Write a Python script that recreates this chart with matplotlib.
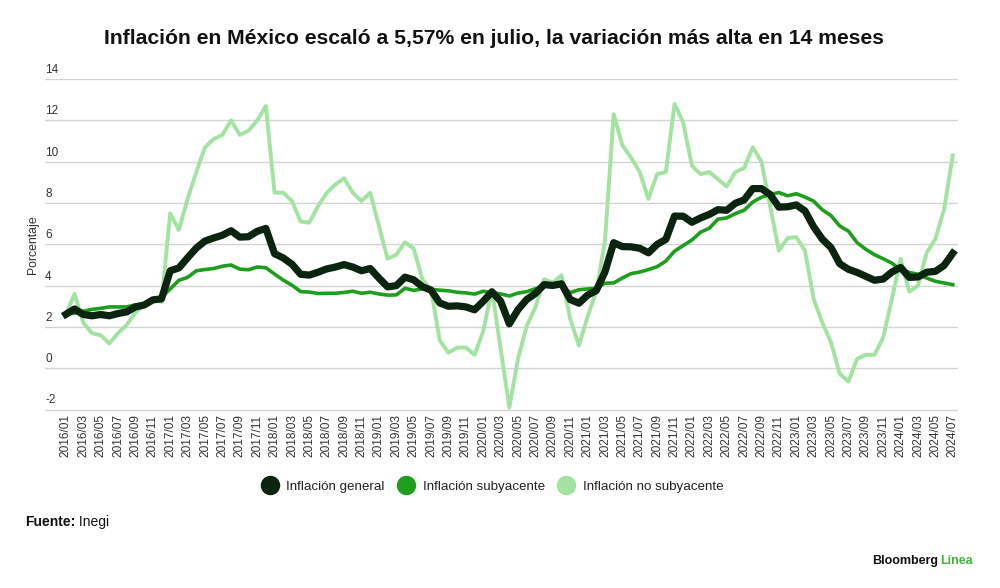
import numpy as np
from matplotlib import pyplot as plt
from matplotlib import transforms
from matplotlib.lines import Line2D

plt.rcParams['font.family'] = ['Liberation Sans', 'DejaVu Sans']

# Datos mensuales 2016/01 - 2024/07, variación anual en %
general = [
    2.61, 2.87, 2.60, 2.54, 2.60, 2.54, 2.65, 2.73, 2.97, 3.06, 3.31, 3.36,
    4.72, 4.86, 5.35, 5.82, 6.16, 6.31, 6.44, 6.66, 6.35, 6.37, 6.63, 6.77,
    5.55, 5.34, 5.04, 4.55, 4.51, 4.65, 4.81, 4.90, 5.02, 4.90, 4.72, 4.83,
    4.37, 3.94, 4.00, 4.41, 4.28, 3.95, 3.78, 3.16, 3.00, 3.02, 2.97, 2.83,
    3.24, 3.70, 3.25, 2.15, 2.84, 3.33, 3.62, 4.05, 4.01, 4.09, 3.33, 3.15,
    3.54, 3.76, 4.67, 6.08, 5.89, 5.88, 5.81, 5.59, 6.00, 6.24, 7.37, 7.36,
    7.07, 7.28, 7.45, 7.68, 7.65, 7.99, 8.15, 8.70, 8.70, 8.41, 7.80, 7.82,
    7.91, 7.62, 6.85, 6.25, 5.84, 5.06, 4.79, 4.64, 4.45, 4.26, 4.32, 4.66,
    4.88, 4.40, 4.42, 4.65, 4.69, 4.98, 5.57,
]
subyacente = [
    2.64, 2.66, 2.76, 2.85, 2.90, 2.97, 2.97, 2.97, 3.07, 3.10, 3.29, 3.44,
    3.84, 4.26, 4.40, 4.72, 4.78, 4.83, 4.94, 5.00, 4.80, 4.77, 4.90, 4.87,
    4.56, 4.27, 4.02, 3.71, 3.69, 3.62, 3.63, 3.63, 3.67, 3.73, 3.63, 3.68,
    3.60, 3.54, 3.55, 3.87, 3.77, 3.85, 3.82, 3.78, 3.75, 3.68, 3.65, 3.59,
    3.73, 3.66, 3.60, 3.50, 3.64, 3.71, 3.85, 3.97, 3.99, 3.98, 3.66, 3.80,
    3.84, 3.87, 4.12, 4.13, 4.37, 4.58, 4.66, 4.78, 4.92, 5.19, 5.67, 5.94,
    6.21, 6.59, 6.78, 7.22, 7.28, 7.49, 7.65, 8.05, 8.28, 8.42, 8.51, 8.35,
    8.45, 8.29, 8.09, 7.67, 7.39, 6.89, 6.64, 6.08, 5.76, 5.50, 5.30, 5.09,
    4.76, 4.64, 4.55, 4.37, 4.21, 4.13, 4.05,
]
no_subyacente = [
    2.6, 3.6, 2.2, 1.7, 1.6, 1.2, 1.7, 2.1, 2.7, 3.05, 3.35, 3.2,
    7.5, 6.7, 8.2, 9.5, 10.7, 11.1, 11.3, 12.0, 11.3, 11.5, 12.0, 12.7,
    8.5, 8.5, 8.1, 7.1, 7.05, 7.85, 8.5, 8.9, 9.2, 8.5, 8.1, 8.5,
    6.9, 5.3, 5.5, 6.1, 5.8, 4.3, 3.8, 1.35, 0.75, 1.0, 1.0, 0.65,
    1.8, 3.8, 0.95, -1.9, 0.45, 2.05, 2.95, 4.3, 4.15, 4.5, 2.4, 1.1,
    2.5, 3.7, 6.15, 12.3, 10.8, 10.2, 9.5, 8.2, 9.4, 9.5, 12.8, 11.9,
    9.8, 9.4, 9.5, 9.15, 8.8, 9.5, 9.7, 10.7, 10.0, 7.85, 5.7, 6.3,
    6.35, 5.7, 3.35, 2.2, 1.25, -0.27, -0.64, 0.45, 0.65, 0.65, 1.5, 3.35,
    5.3, 3.7, 4.0, 5.6, 6.25, 7.7, 10.3,
]
meses = [f"{2016 + i // 12}/{i % 12 + 1:02d}" for i in range(len(general))]
y_ticks = [-2, 0, 2, 4, 6, 8, 10, 12, 14]

c_general = '#0b2410'
c_sub = '#1d9e1d'
c_nosub = '#a2e3a2'

fig = plt.figure(figsize=(10, 5.88), dpi=100)
ax = fig.add_axes([0.045, 0.30, 0.913, 0.5654])

x = np.arange(len(general))
ax.plot(x, no_subyacente, color=c_nosub, lw=2.8, zorder=2)
ax.plot(x, subyacente, color=c_sub, lw=2.6, zorder=3)
ax.plot(x, general, color=c_general, lw=5.2, zorder=4)

ax.set_xlim(-2.4, 102.6)
ax.set_ylim(-2.1, 14)
for s in ax.spines.values():
    s.set_visible(False)

# líneas de la cuadrícula con la etiqueta encima, a la izquierda
ax.set_yticks(y_ticks)
ax.tick_params(axis='y', length=0, labelleft=False)
ax.grid(axis='y', color='#d4d4d4', lw=1.0)
trans = transforms.blended_transform_factory(ax.transAxes, ax.transData)
for v in y_ticks:
    ax.text(0.0, v + 0.15, str(v), transform=trans, ha='left', va='bottom',
            fontsize=8.5, color='#333333')

ax.set_xticks(x[::2])
ax.set_xticklabels(meses[::2], rotation=90, fontsize=8.6, color='#333333')
ax.tick_params(axis='x', length=0, pad=2)

fig.text(0.033, 0.584, 'Porcentaje', rotation=90, ha='center', va='center',
         fontsize=8.8, color='#333333')

fig.text(0.494, 0.935, 'Inflación en México escaló a 5,57% en julio, la variación más alta en 14 meses',
         ha='center', va='center', fontsize=15.2, fontweight='bold', color='#111111')

handles = [Line2D([], [], marker='o', ls='none', ms=13, color=c)
           for c in (c_general, c_sub, c_nosub)]
fig.legend(handles, ['Inflación general', 'Inflación subyacente', 'Inflación no subyacente'],
           loc='center', bbox_to_anchor=(0.49, 0.172), ncol=3, frameon=False,
           fontsize=9.6, handletextpad=0.25, columnspacing=0.6, labelcolor='#222222')

fuente = fig.text(0.025, 0.112, 'Fuente:', fontsize=10, fontweight='bold', va='center',
                  color='#111111')
ax.annotate(' Inegi', xy=(1, 0.5), xycoords=fuente, va='center', ha='left',
            fontsize=10, color='#111111', annotation_clip=False)

fig.text(0.973, 0.046, 'Línea', fontsize=9, fontweight='bold', va='center', ha='right',
         color='#3db83d')
fig.text(0.938, 0.046, 'Bloomberg', fontsize=9, fontweight='bold', va='center', ha='right',
         color='#111111')

fig.savefig('out.png', dpi=100)
